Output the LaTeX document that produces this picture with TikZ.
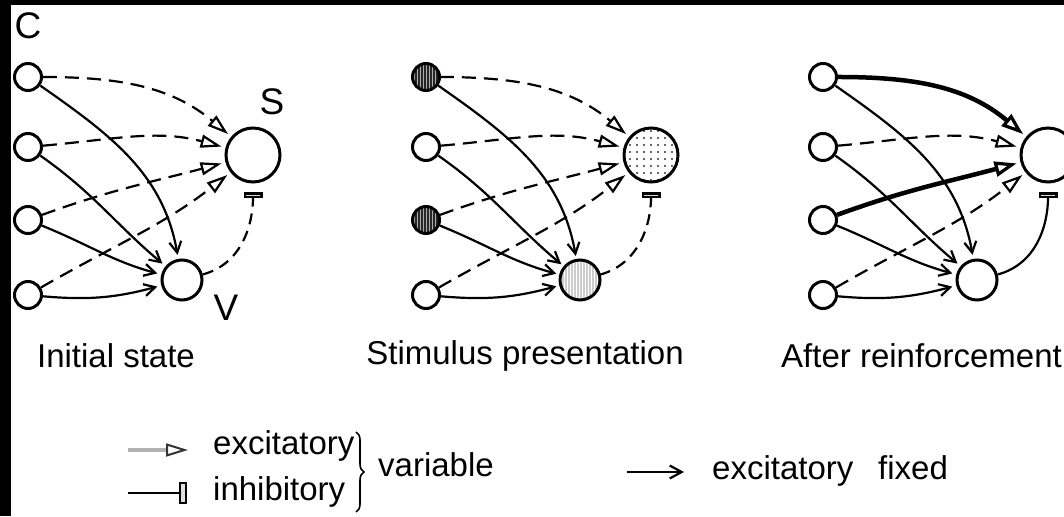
\documentclass[tikz,border=0pt]{standalone}
\usepackage{fontspec}
\setmainfont{Liberation Sans}
\usetikzlibrary{arrows.meta,patterns.meta,decorations.pathreplacing}

\tikzset{
  x=1pt, y=1pt,
  cellbase/.style={circle, draw, line width=3pt, inner sep=0pt, fill=white},
  unit/.style={cellbase, minimum size=27pt},
  snode/.style={cellbase, minimum size=54pt},
  vnode/.style={cellbase, minimum size=40pt},
  wire/.style={line width=2.2pt},
  varexc/.style={wire, dash pattern=on 14pt off 8pt,
    -{Triangle[open,length=21pt,width=13pt]}, shorten >=4pt},
  strongexc/.style={line width=4.5pt,
    -{Triangle[open,length=22pt,width=15pt,line width=3.2pt]}, shorten >=4pt},
  fixexc/.style={wire, -{Straight Barb[length=11pt,width=12pt]}, shorten >=4pt},
  inhib/.style={wire, -{Rectangle[length=6pt,width=19pt,fill=gray!35]}, shorten >=9pt},
  lbl/.style={font=\fontsize{37}{44}\selectfont, inner sep=0pt},
  captext/.style={font=\fontsize{33}{40}\selectfont, inner sep=0pt},
}

% fixed excitatory links from the C units to V
\newcommand\fixedlinks[1]{%
  \draw[fixexc] (#1c1) to[out=-35,in=100] (#1v);
  \draw[fixexc] (#1c2) to[out=-35,in=140] (#1v);
  \draw[fixexc] (#1c3) to[out=-22,in=165] (#1v);
  \draw[fixexc] (#1c4) to[out=-5,in=195] (#1v);
}

\begin{document}
\begin{tikzpicture}
\useasboundingbox (0,0) rectangle (1064,516);
\clip (0,0) rectangle (1064,516);
\fill[black] (0,0) rectangle (1064,516);
\fill[white] (11,0) rectangle (1064,511);

% ---------- initial state ----------
\node[lbl] (labc) at (28,490) {C};
\node[unit] (ac1) at (28,439) {};
\node[unit] (ac2) at (28,369) {};
\node[unit] (ac3) at (28,296) {};
\node[unit] (ac4) at (28,221) {};
\node[snode] (as) at (253,361) {};
\node[vnode] (av) at (182,236) {};
\node[lbl] (labs) at (272,414) {S};
\node[lbl] (labv) at (226,208) {V};
\draw[varexc] (ac1) to[out=0,in=140] (as);
\draw[varexc] (ac2) to[out=5,in=165] (as);
\draw[varexc] (ac3) to[out=20,in=195] (as);
\draw[varexc] (ac4) to[out=30,in=218] (as);
\draw[inhib, dash pattern=on 11pt off 7pt] (av) to[out=15,in=-90] (as);
\fixedlinks{a}
\node[captext] (cap1) at (116,160) {Initial state};

% ---------- stimulus presentation ----------
\begin{scope}[xshift=398pt]
\node[unit, preaction={fill=black!85}, pattern={Lines[angle=90,distance=3pt,line width=0.7pt]}, pattern color=gray!65] (bc1) at (28,439) {};
\node[unit] (bc2) at (28,369) {};
\node[unit, preaction={fill=black!85}, pattern={Lines[angle=90,distance=3pt,line width=0.7pt]}, pattern color=gray!65] (bc3) at (28,296) {};
\node[unit] (bc4) at (28,221) {};
\node[snode, preaction={fill=white}, pattern={Dots[distance=7pt,radius=1.1pt]}, pattern color=black!80] (bs) at (253,361) {};
\node[vnode, preaction={fill=gray!40}, pattern={Lines[angle=90,distance=3pt,line width=0.8pt]}, pattern color=white] (bv) at (182,236) {};
\draw[varexc] (bc1) to[out=0,in=140] (bs);
\draw[varexc] (bc2) to[out=5,in=165] (bs);
\draw[varexc] (bc3) to[out=20,in=195] (bs);
\draw[varexc] (bc4) to[out=30,in=218] (bs);
\draw[inhib, dash pattern=on 11pt off 7pt] (bv) to[out=15,in=-90] (bs);
\fixedlinks{b}
\node[captext] (cap2) at (127,160) {Stimulus presentation};
\end{scope}

% ---------- after reinforcement ----------
\begin{scope}[xshift=795pt]
\node[unit] (cc1) at (28,439) {};
\node[unit] (cc2) at (28,369) {};
\node[unit] (cc3) at (28,296) {};
\node[unit] (cc4) at (28,221) {};
\node[snode] (cs) at (253,361) {};
\node[vnode] (cv) at (182,236) {};
\draw[strongexc] (cc1) to[out=0,in=140] (cs);
\draw[varexc] (cc2) to[out=5,in=165] (cs);
\draw[strongexc] (cc3) to[out=20,in=195] (cs);
\draw[varexc] (cc4) to[out=30,in=218] (cs);
\draw[inhib] (cv) to[out=15,in=-90] (cs);
\fixedlinks{c}
\node[captext, anchor=west] (cap3) at (-14,160) {After reinforcement};
\end{scope}

% ---------- legend ----------
\coordinate (le1) at (128,66);
\coordinate (le2) at (188,66);
\draw[line width=3.2pt, gray!60, -{Triangle[open,length=22pt,width=13pt,color=black!80,line width=2pt]}] (le1) -- (le2);
\coordinate (li1) at (128,23);
\coordinate (li2) at (187,23);
\draw[wire, -{Rectangle[length=8pt,width=22pt,fill=gray!25]}] (li1) -- (li2);
\node[captext, anchor=base west] (lexc) at (213,61) {excitatory};
\node[captext, anchor=base west] (linh) at (213,16) {inhibitory};
\coordinate (br1) at (356,84);
\coordinate (br2) at (356,4);
\draw[decorate, decoration={brace, amplitude=8pt}, line width=1.6pt] (br1) -- (br2);
\node[captext, anchor=base west] (lvar) at (378,39) {variable};
\coordinate (lf1) at (627,44);
\coordinate (lf2) at (684,44);
\draw[wire, -{Straight Barb[length=12pt,width=13pt]}] (lf1) -- (lf2);
\node[captext, anchor=base west] (lfexc) at (712,36) {excitatory};
\node[captext, anchor=base west] (lfix) at (878,36) {fixed};
\end{tikzpicture}
\end{document}
